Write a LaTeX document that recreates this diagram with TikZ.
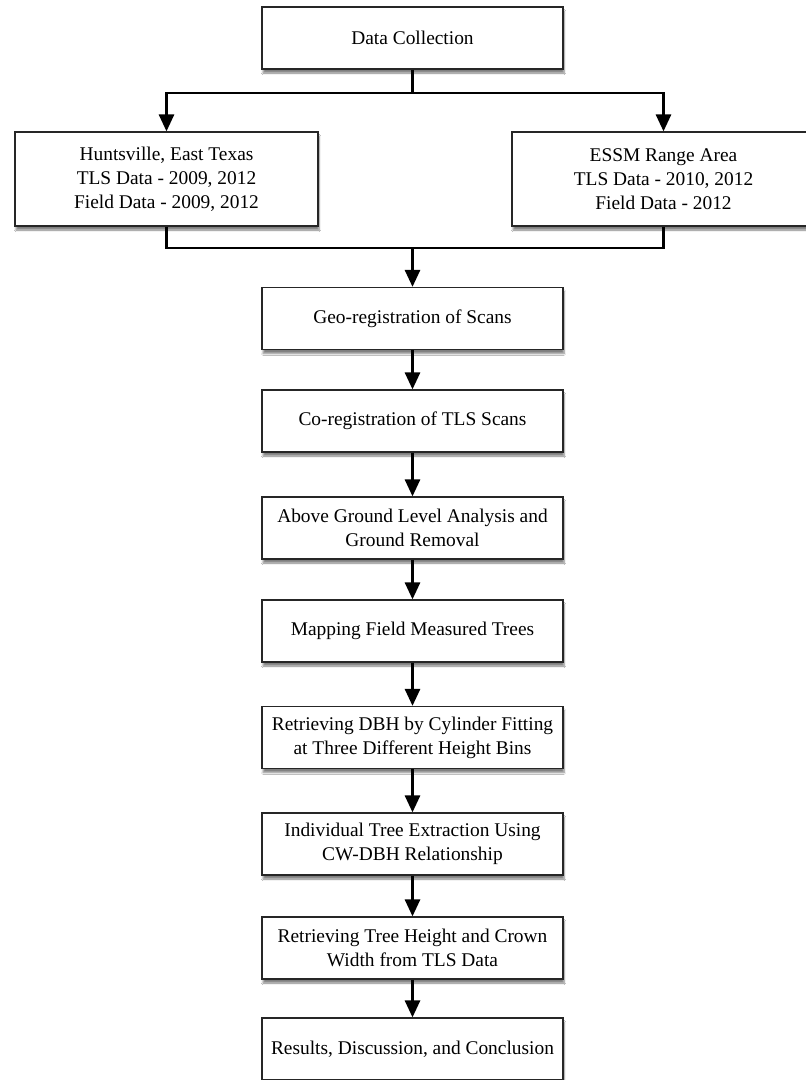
\documentclass[tikz,border=0pt]{standalone}
\usepackage{fontspec}
\setmainfont{Liberation Serif}
\usetikzlibrary{arrows.meta,shadows.blur}
\begin{document}
\begin{tikzpicture}[x=1pt,y=-1pt,
  box/.style={draw=black!85, line width=1.2pt, fill=white, align=center,
    minimum width=301pt, minimum height=62pt, inner sep=2pt,
    font=\fontsize{19.4}{23.8}\selectfont,
    blur shadow={shadow xshift=1pt, shadow yshift=-4pt, shadow blur steps=6, shadow blur extra rounding=0pt, shadow opacity=50}},
  sidebox/.style={box, minimum width=303pt, minimum height=94pt},
  conn/.style={line width=2.8pt, black},
  arr/.style={conn, -{Triangle[length=17pt,width=15pt]}}]
\useasboundingbox (0,0) rectangle (806,1080);
\fill[white] (0,0) rectangle (806,1080);
\node[box] (dc) at (412.5,38) {Data Collection};
\node[sidebox] (hv) at (166.5,179) {Huntsville, East Texas\\TLS Data - 2009, 2012\\Field Data - 2009, 2012};
\node[sidebox] (es) at (663.5,179) {ESSM Range Area\\TLS Data - 2010, 2012\\Field Data - 2012};
\node[box] (geo) at (412.5,318.5) {Geo-registration of Scans};
\node[box] (co) at (412.5,421) {Co-registration of TLS Scans};
\node[box] (ag) at (412.5,528) {Above Ground Level Analysis and\\Ground Removal};
\node[box] (map) at (412.5,631) {Mapping Field Measured Trees};
\node[box] (dbh) at (412.5,737.5) {Retrieving DBH by Cylinder Fitting\\at Three Different Height Bins};
\node[box] (ind) at (412.5,844) {Individual Tree Extraction Using\\CW-DBH Relationship};
\node[box] (th) at (412.5,948) {Retrieving Tree Height and Crown\\Width from TLS Data};
\node[box] (res) at (412.5,1049) {Results, Discussion, and Conclusion};
\coordinate (j1) at (412.5,93);
\coordinate (j2) at (412.5,248);
\draw[arr] (dc.south) -- (j1) -| (hv.north);
\draw[arr] (j1) -| (es.north);
\draw[conn] (hv.south) |- (j2) -| (es.south);
\draw[arr] (j2) -- (geo.north);
\draw[arr] (geo) -- (co);
\draw[arr] (co) -- (ag);
\draw[arr] (ag) -- (map);
\draw[arr] (map) -- (dbh);
\draw[arr] (dbh) -- (ind);
\draw[arr] (ind) -- (th);
\draw[arr] (th) -- (res);
\end{tikzpicture}
\end{document}
